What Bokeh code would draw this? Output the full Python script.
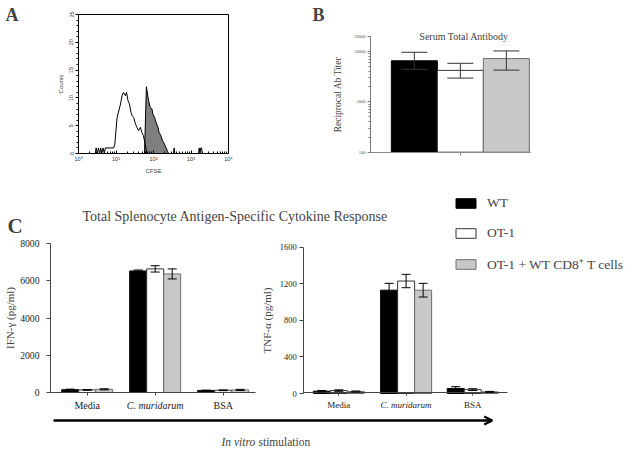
import math
from bokeh.plotting import figure
from bokeh.layouts import column, row
from bokeh.models import (Range1d, LinearAxis, LogAxis, FixedTicker, Label, Arrow, OpenHead, TeeHead,
                          Whisker, ColumnDataSource, Legend, LegendItem, BoxAnnotation)
from bokeh.embed import file_html
from bokeh.resources import INLINE

SERIF = "Liberation Serif"
SANS = "Liberation Sans"

# ---------------- data: panel A (CFSE histogram) ----------------
open_cfse = [1, 2.8, 2.95, 3.2, 3.4, 3.7, 3.9, 4.2, 4.5, 4.9, 5.2, 8.7, 9.3, 10.7, 13.2, 14.5,
             15.8, 17.8, 19.1, 20.9, 22.9, 25.1, 26.9, 29.5, 33.1, 36.3, 39.8, 44.7, 49.0, 53.7,
             60.3, 66.1, 340, 355, 370, 1580, 1660, 1740, 1820, 1910, 2000, 10000]
open_counts = [0, 0, 1, 0, 1, 0, 1, 0, 1, 0, 1, 1, 1.7, 6.5, 8.9, 10.4, 11, 10.4, 11, 9.5, 8.9,
               7.4, 6.8, 6.5, 5.3, 4.7, 4.1, 4.7, 3.8, 3.2, 1.7, 0, 0, 1, 0, 0, 1, 0, 1, 1, 0, 0]
filled_cfse = [57.5, 64.6, 69.2, 74.1, 81.3, 91.2, 95.5, 107, 117, 132, 141, 158, 174, 195, 214, 234, 251]
filled_counts = [0, 12, 10.7, 9.5, 8.3, 8, 7.1, 6.5, 5.6, 4.7, 3.8, 3.2, 2.3, 1.7, 1.1, 0.5, 0]
a_xticks = [1, 10, 100, 1000, 10000]
a_xlabels = ["10⁰", "10¹", "10²", "10³", "10⁴"]
a_yticks = [0, 5, 10, 15, 20, 25]

# ---------------- data: panel B (serum antibody) ----------------
groups = ["WT", "OT-1", "OT-1 + WT CD8⁺ T cells"]
titer_mean = [6500, 4200, 7200]
titer_upper = [9600, 5800, 10200]
titer_lower = [4400, 2950, 4250]
b_yticks = [100, 1000, 10000, 20000]

# ---------------- data: panel C (cytokines) ----------------
stimuli = ["Media", "C. muridarum", "BSA"]
ifn_wt = [150, 6540, 110]
ifn_wt_sem = [30, 50, 20]
ifn_ot1 = [140, 6650, 120]
ifn_ot1_sem = [20, 170, 20]
ifn_mix = [170, 6380, 140]
ifn_mix_sem = [30, 270, 30]
tnf_wt = [25, 1130, 55]
tnf_wt_sem = [8, 75, 20]
tnf_ot1 = [32, 1230, 42]
tnf_ot1_sem = [8, 73, 10]
tnf_mix = [22, 1130, 18]
tnf_mix_sem = [5, 75, 5]
ifn_ticks = [0, 2000, 4000, 6000, 8000]
tnf_ticks = [0, 400, 800, 1200, 1600]

fills = ["black", "white", "#c8c8c8"]
lines = ["black", "#333333", "#6e6e6e"]


# ---- layout helpers: the frame fills each canvas; ranges put the axes where the panels sit ----
def span(v0, p0, v1, p1, pa, pb):
    k = (v1 - v0) / (p1 - p0)
    return v0 + (pa - p0) * k, v0 + (pb - p0) * k


def lin_x(v0, p0, v1, p1, left, right):
    a, b = span(v0, p0, v1, p1, left, right)
    return Range1d(a, b)


def lin_y(v0, p0, v1, p1, top, bottom):
    a, b = span(v0, p0, v1, p1, bottom, top)
    return Range1d(a, b)


def log_x(v0, p0, v1, p1, left, right):
    a, b = span(math.log10(v0), p0, math.log10(v1), p1, left, right)
    return Range1d(10 ** a, 10 ** b)


def log_y(v0, p0, v1, p1, top, bottom):
    a, b = span(math.log10(v0), p0, math.log10(v1), p1, bottom, top)
    return Range1d(10 ** a, 10 ** b)


def base_fig(w, h, xr, yr, **kw):
    p = figure(width=w, height=h, x_range=xr, y_range=yr, x_axis_location=None, y_axis_location=None,
               output_backend="svg", toolbar_location=None, min_border=0, **kw)
    p.grid.visible = False
    p.outline_line_color = None
    p.background_fill_color = "white"
    p.border_fill_color = "white"
    return p


def txt(x, y, text, size, style="normal", font=SERIF, align="left"):
    return Label(x=x, y=y, x_units="screen", y_units="screen", text=text, text_font=font,
                 text_font_size=size, text_font_style=style, text_align=align,
                 text_baseline="alphabetic")


# ================= Panel A (canvas x 0-300, y 0-185) =================
pA = base_fig(300, 185, log_x(1, 78, 10000, 228, 0, 300), lin_y(0, 153, 25, 14, 0, 185),
              x_axis_type="log")
pA.patch(filled_cfse, filled_counts, fill_color="#7f7f7f", line_color="black", line_width=1)
pA.line(open_cfse, open_counts, line_color="black", line_width=1)
pA.add_layout(BoxAnnotation(left=1, right=10000, bottom=0, top=25, fill_alpha=0,
                            line_color="black", line_width=1, line_alpha=1))

minorA = [m * d for d in [1, 10, 100, 1000] for m in range(2, 10)]
xa = LogAxis(fixed_location=0, bounds=(1, 10000),
             ticker=FixedTicker(ticks=a_xticks, minor_ticks=minorA),
             major_label_overrides={t: l for t, l in zip(a_xticks, a_xlabels)}, axis_label="CFSE")
ya = LinearAxis(fixed_location=1, bounds=(0, 25),
                ticker=FixedTicker(ticks=a_yticks, minor_ticks=[v for v in range(0, 26) if v % 5]),
                axis_label="Counts", major_label_orientation="vertical")
for ax in (xa, ya):
    ax.major_label_text_font = SANS
    ax.major_label_text_font_size = "5.5px"
    ax.major_label_text_color = "#333333"
    ax.axis_label_text_font = SANS
    ax.axis_label_text_font_size = "6px"
    ax.axis_label_text_font_style = "normal"
    ax.axis_line_color = "black"
    ax.major_tick_line_color = "black"
    ax.minor_tick_line_color = "black"
xa.major_tick_in = 3
xa.major_tick_out = 0
xa.minor_tick_in = 2
xa.minor_tick_out = 0
xa.major_label_standoff = 2
xa.axis_label_standoff = 3
ya.major_tick_in = 0
ya.major_tick_out = 3
ya.minor_tick_in = 0
ya.minor_tick_out = 2
ya.major_label_standoff = 2
ya.axis_label_standoff = 3
pA.add_layout(xa, "below")
pA.add_layout(ya, "left")
pA.add_layout(txt(5, 170.2, "A", "18px", "bold"))

# ================= Panel B (canvas x 300-632, y 0-185) =================
pB = base_fig(332, 185, lin_x(1, 413.85, 2, 459.85, 300, 632),
              log_y(100, 151.7, 20000, 35.7, 0, 185), y_axis_type="log")
srcB = ColumnDataSource(dict(x=[1, 2, 3], top=titer_mean, upper=titer_upper, lower=titer_lower,
                             fill=fills, line=lines, name=groups))
pB.vbar(x="x", top="top", bottom=100, width=1, source=srcB, fill_color="fill", line_color="line")
pB.add_layout(Whisker(source=srcB, base="x", upper="upper", lower="lower", line_color="#333333",
                      level="annotation",
                      upper_head=TeeHead(size=26, line_color="#333333"),
                      lower_head=TeeHead(size=26, line_color="#333333")))
b_x0 = 1 - 43.85 / 46
xb = LinearAxis(fixed_location=100, bounds=(b_x0, 3.53), ticker=FixedTicker(ticks=[2]),
                major_label_overrides={2: ""})
xb.major_tick_out = 3
xb.major_tick_in = 0
xb.axis_line_color = "#888888"
xb.major_tick_line_color = "#888888"
pB.add_layout(xb, "below")
yb = LogAxis(fixed_location=b_x0, bounds=(100, 20000),
             ticker=FixedTicker(ticks=b_yticks,
                                minor_ticks=[m * d for d in [100, 1000] for m in range(2, 10)]),
             major_label_overrides={t: str(t) for t in b_yticks}, axis_label="Reciprocal Ab Titer")
yb.major_label_text_font = SERIF
yb.major_label_text_font_size = "4.5px"
yb.major_label_text_color = "#555555"
yb.axis_line_color = "#777777"
yb.major_tick_line_color = "#777777"
yb.minor_tick_line_color = "#777777"
yb.major_tick_out = 3
yb.major_tick_in = 0
yb.minor_tick_out = 2
yb.minor_tick_in = 0
yb.major_label_standoff = 2
yb.axis_label_text_font = SERIF
yb.axis_label_text_font_size = "9.5px"
yb.axis_label_text_font_style = "normal"
yb.axis_label_standoff = 8
pB.add_layout(yb, "left")
pB.add_layout(txt(12, 170.5, "B", "18px", "bold"))
pB.add_layout(txt(163.5, 149.3, "Serum Total Antibody", "10px", align="center"))

# ================= Panel C (canvas x 0-632, y 185-449) =================
pC = base_fig(632, 264, lin_x(1, 86.7, 2, 154.7, 0, 632), lin_y(0, 392, 8000, 243.3, 185, 449))
pC.extra_y_ranges = {"tnf": lin_y(0, 393, 1600, 246.7, 185, 449)}

left_pos = [1, 2, 3]
right_pos = [4.70, 5.69, 6.67]
c_x0 = 1 - 36.7 / 68
c_x1 = 1 + (255 - 86.7) / 68
c_x2 = 1 + (303.3 - 86.7) / 68
c_x3 = 1 + (507 - 86.7) / 68
series = [(ifn_wt, ifn_wt_sem, tnf_wt, tnf_wt_sem),
          (ifn_ot1, ifn_ot1_sem, tnf_ot1, tnf_ot1_sem),
          (ifn_mix, ifn_mix_sem, tnf_mix, tnf_mix_sem)]
legend_items = []
for i, (im, ie, tm, te) in enumerate(series):
    off = (i - 1) * 0.25
    for pos, m, e, rname in ((left_pos, im, ie, "default"), (right_pos, tm, te, "tnf")):
        src = ColumnDataSource(dict(x=[c + off for c in pos], top=m,
                                    upper=[a + b for a, b in zip(m, e)],
                                    lower=[a - b for a, b in zip(m, e)]))
        r = pC.vbar(x="x", top="top", bottom=0, width=0.25, source=src, fill_color=fills[i],
                    line_color=lines[i], line_width=1, y_range_name=rname)
        pC.add_layout(Whisker(source=src, base="x", upper="upper", lower="lower", line_color="black",
                              level="annotation", y_range_name=rname,
                              upper_head=TeeHead(size=9, line_color="black"),
                              lower_head=TeeHead(size=9, line_color="black")))
        if rname == "default":
            legend_items.append(LegendItem(label=groups[i], renderers=[r]))


def style_axis(ax, size):
    ax.major_label_text_font = SERIF
    ax.major_label_text_font_size = size
    ax.major_label_text_color = "#222222"
    ax.axis_line_color = "#444444"
    ax.major_tick_line_color = "#444444"
    ax.minor_tick_line_color = None
    ax.axis_label_text_font = SERIF
    ax.axis_label_text_font_style = "normal"
    ax.axis_label_text_font_size = "11px"


ax_ifn = LinearAxis(fixed_location=c_x0, bounds=(0, 8000), ticker=FixedTicker(ticks=ifn_ticks),
                    axis_label="IFN-γ (pg/ml)")
style_axis(ax_ifn, "9.7px")
ax_ifn.major_tick_out = 4
ax_ifn.major_tick_in = 0
ax_ifn.major_label_standoff = 7
ax_ifn.axis_label_standoff = 1
pC.add_layout(ax_ifn, "left")

ax_tnf = LinearAxis(y_range_name="tnf", fixed_location=c_x2, bounds=(0, 1600),
                    ticker=FixedTicker(ticks=tnf_ticks), axis_label="TNF-α (pg/ml)")
style_axis(ax_tnf, "8.5px")
ax_tnf.major_tick_out = 4
ax_tnf.major_tick_in = 0
ax_tnf.major_label_standoff = 3
ax_tnf.axis_label_standoff = 4
pC.add_layout(ax_tnf, "left")

for pos, bnds, size in ((left_pos, (c_x0, c_x1), "10px"), (right_pos, (c_x2, c_x3), "9px")):
    ax = LinearAxis(fixed_location=0, bounds=bnds, ticker=FixedTicker(ticks=pos),
                    major_label_overrides={pos[0]: stimuli[0], pos[1]: "", pos[2]: stimuli[2]})
    style_axis(ax, size)
    ax.major_tick_out = 3
    ax.major_tick_in = 0
    ax.major_label_standoff = 4
    pC.add_layout(ax, "below")
    axi = LinearAxis(fixed_location=0, bounds=bnds, ticker=FixedTicker(ticks=[pos[1]]),
                     major_label_overrides={pos[1]: stimuli[1]})
    style_axis(axi, size)
    axi.major_label_text_font_style = "italic"
    axi.axis_line_color = None
    axi.major_tick_line_color = None
    axi.major_tick_out = 3
    axi.major_tick_in = 0
    axi.major_label_standoff = 4
    pC.add_layout(axi, "below")

legend = Legend(items=legend_items, location=(453, 176), orientation="vertical",
                glyph_width=25, glyph_height=12, label_standoff=9, label_height=12,
                spacing=14, padding=0, margin=0, border_line_color=None,
                background_fill_alpha=0, label_text_font=SERIF, label_text_font_size="13.5px")
pC.add_layout(legend)

pC.add_layout(txt(7, 224, "C", "21px", "bold"))
pC.add_layout(txt(82, 233, "Total Splenocyte Antigen-Specific Cytokine Response", "14px"))
pC.add_layout(Arrow(x_start=53, y_start=29, x_end=491.7, y_end=29, start_units="screen",
                    end_units="screen", line_width=2.3, line_color="black",
                    end=OpenHead(size=8, line_width=2.3, line_color="black")))
pC.add_layout(txt(221, 7.5, "In vitro", "11.5px", "italic"))
pC.add_layout(txt(258, 7.5, "stimulation", "11.5px"))

layout = column(row(pA, pB), pC)
open("out.html", "w").write(file_html(layout, INLINE))
